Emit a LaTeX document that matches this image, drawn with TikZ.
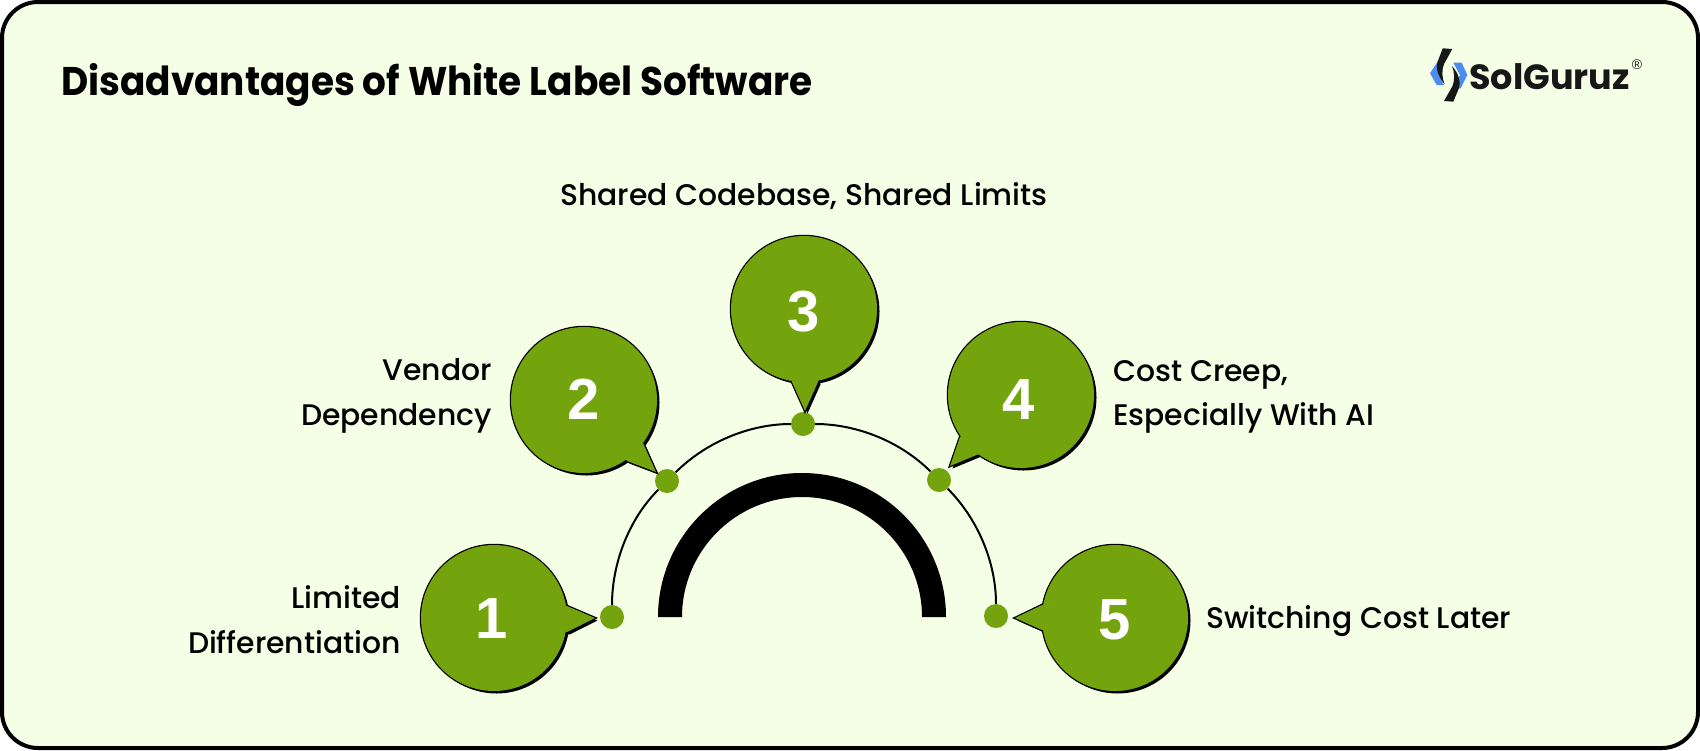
\documentclass[tikz,border=0pt]{standalone}
\usepackage{fontspec}
\setmainfont{Poppins}[UprightFont=* Medium,BoldFont=* Bold]
\newfontfamily\numfont{Liberation Sans}
\definecolor{bgc}{HTML}{F5FFE6}
\definecolor{grn}{HTML}{73A40D}
\definecolor{logob}{HTML}{4A8CF0}
\definecolor{logok}{HTML}{171717}
\newcommand{\fs}[2][1.5]{\fontsize{#2}{#1\dimexpr #2pt\relax}\selectfont}
\tikzset{
  dotnode/.style={circle,fill=grn,inner sep=0pt,minimum size=24pt},
  numnode/.style={text=white,font=\numfont\bfseries\fs{58},inner sep=0pt},
  lbl/.style={font=\fs{29.8},text=black,inner sep=0pt,align=#1},
  lbl/.default=left,
  link/.style={line width=2pt,black,looseness=0.86}
}
% #1 centre, #2 base a, #3 tip, #4 base b
\newcommand{\bubble}[4]{
  \fill[black,shift={(2.5,2.5)}] #1 circle[radius=73];
  \fill[black,shift={(2.5,2.5)}] #1 -- #2 -- #3 -- #4 -- cycle;
  \draw[black,line width=2.5pt,line join=miter,miter limit=10] #1 circle[radius=73];
  \draw[black,line width=2.5pt,line join=miter,miter limit=10] #1 -- #2 -- #3 -- #4 -- cycle;
  \fill[grn] #1 circle[radius=73];
  \fill[grn] #1 -- #2 -- #3 -- #4 -- cycle;
}
\begin{document}
\begin{tikzpicture}[x=1pt,y=-1pt]
\useasboundingbox (0,0) rectangle (1700,750);
\fill[white] (0,0) rectangle (1700,750);
\draw[black,line width=4pt,fill=bgc,rounded corners=36pt] (2,2) rectangle (1698,748);
\node[anchor=west,inner sep=0pt,font=\fs{40}\bfseries] (title) at (61,85) {\scalebox{0.935}[1]{Disadvantages of White Label Software}};

% black arch
\fill[black] (658,617) arc[start angle=180,end angle=360,radius=144] -- (922,617) arc[start angle=360,end angle=180,radius=120] -- cycle;

% dots and links
\node[dotnode] (d1) at (612,617) {};
\node[dotnode] (d2) at (667,481) {};
\node[dotnode] (d3) at (803,424) {};
\node[dotnode] (d4) at (939,480) {};
\node[dotnode] (d5) at (996,616) {};
\draw[link] (d1) to[out=90,in=225] (d2);
\draw[link] (d2) to[out=45,in=180] (d3);
\draw[link] (d3) to[out=0,in=135] (d4);
\draw[link] (d4) to[out=-45,in=90] (d5);

% bubbles
\bubble{(494,618)}{(567,606)}{(595,618)}{(567,632)}
\bubble{(584,400)}{(643,443)}{(656,472)}{(627,461)}
\bubble{(804,309)}{(792,382)}{(805,411)}{(818,382)}
\bubble{(1021,395)}{(960,437)}{(950,466)}{(979,454)}
\bubble{(1115,618)}{(1042,605)}{(1015,618)}{(1042,630)}
\node[numnode] (n1) at (492,619) {1};
\node[numnode] (n2) at (584,399) {2};
\node[numnode] (n3) at (804,312) {3};
\node[numnode] (n4) at (1019,400) {4};
\node[numnode] (n5) at (1115,620) {5};

% labels
\node[lbl=right,anchor=east] (l1) at (401,620) {Limited\\Differentiation};
\node[lbl=right,anchor=east] (l2) at (492,396) {Vendor\\Dependency};
\node[lbl=center] (l3) at (804,196) {Shared Codebase, Shared Limits};
\node[lbl=left,anchor=west] (l4) at (1113,397) {Cost Creep,\\Especially With AI};
\node[lbl=left,anchor=west] (l5) at (1206,621) {Switching Cost Later};

% logo
\fill[logob] (1438.3,60.7) -- (1430,73.3) -- (1436.7,85) -- (1444,85) -- (1437.7,73.3) -- (1444,60.7) -- cycle;
\fill[logob] (1453.3,62.7) -- (1461.7,62.7) -- (1467.3,75) -- (1460.7,88.3) -- (1453.3,88.3) -- (1460,75) -- cycle;
\fill[logok] (1442.7,48.3) -- (1452.3,49) -- (1444,64) .. controls (1441.5,70) and (1442,78) .. (1444.5,84) .. controls (1441,80) and (1435,72) .. (1437.5,62) -- cycle;
\fill[logok] (1453.3,101.7) -- (1444,101) -- (1452.5,86) .. controls (1455,80) and (1454.5,72) .. (1452,66) .. controls (1455.5,70) and (1461.5,78) .. (1459,88) -- cycle;
\node[anchor=west,inner sep=0pt,font=\fs{35}\bfseries,text=logok] (logo) at (1469,77) {SolGuruz};
\node[inner sep=0pt,font=\numfont\fs{14},text=logok] (reg) at (1637,65) {®};
\end{tikzpicture}
\end{document}
